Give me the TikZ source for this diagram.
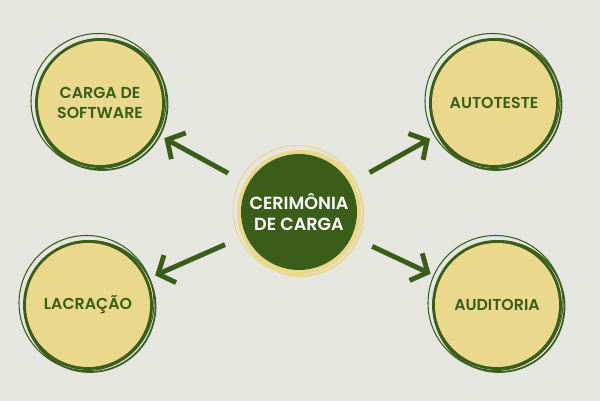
\documentclass[tikz,border=0pt]{standalone}
\usepackage{fontspec}
\setmainfont{Poppins}[BoldFont={Poppins SemiBold}]
\usetikzlibrary{positioning}
\usetikzlibrary{arrows.meta}
\definecolor{bgcol}{HTML}{E6E6E1}
\definecolor{leaf}{HTML}{3A5E1A}
\definecolor{straw}{HTML}{EAD98C}

\begin{document}
\begin{tikzpicture}[%
  >={Straight Barb[length=2.6mm,width=6mm]},
  hub/.style={circle, fill=leaf, minimum size=2.32cm, inner sep=0pt,
    align=center, text=white, font=\bfseries\fontsize{10}{12}\selectfont},
  stage/.style={circle, fill=straw, minimum size=2.48cm, inner sep=0pt,
    align=center, text=leaf, font=\bfseries\fontsize{9}{11}\selectfont},
  brush/.style={line width=2.2pt},
  link/.style={->, leaf, line width=2.8pt},
]

  \fill[bgcol] (0,0) rectangle (12,8.02);

  % rings behind the nodes
  \foreach \x/\y/\r/\c in {5.98/3.78/1.2/straw, 2.0/5.96/1.26/leaf,
      9.88/5.96/1.26/leaf, 1.76/1.92/1.26/leaf, 9.94/1.92/1.26/leaf}{
    \draw[brush, \c] (\x,\y) circle (\r);
    \draw[brush, \c, line width=1pt] (\x+0.04,\y-0.03) circle (\r+0.05);
    \draw[brush, \c, line width=0.6pt] (\x-0.03,\y+0.04) circle (\r+0.09);
  }

  \node[hub] (center) at (5.98, 3.78) {CERIMÔNIA\\DE CARGA};
  \node[stage] (software) at (2.0, 5.96) {CARGA DE\\SOFTWARE};
  \node[stage] (autoteste) at (9.88, 5.96) {AUTOTESTE};
  \node[stage] (lacracao) at (1.76, 1.92) {LACRAÇÃO};
  \node[stage] (auditoria) at (9.94, 1.92) {AUDITORIA};

  \draw[link, shorten <=0.45cm, shorten >=0.22cm] (center) -- (software);
  \draw[link, shorten <=0.45cm, shorten >=0.22cm] (center) -- (autoteste);
  \draw[link, shorten <=0.45cm, shorten >=0.22cm] (center) -- (lacracao);
  \draw[link, shorten <=0.45cm, shorten >=0.22cm] (center) -- (auditoria);

\end{tikzpicture}
\end{document}
